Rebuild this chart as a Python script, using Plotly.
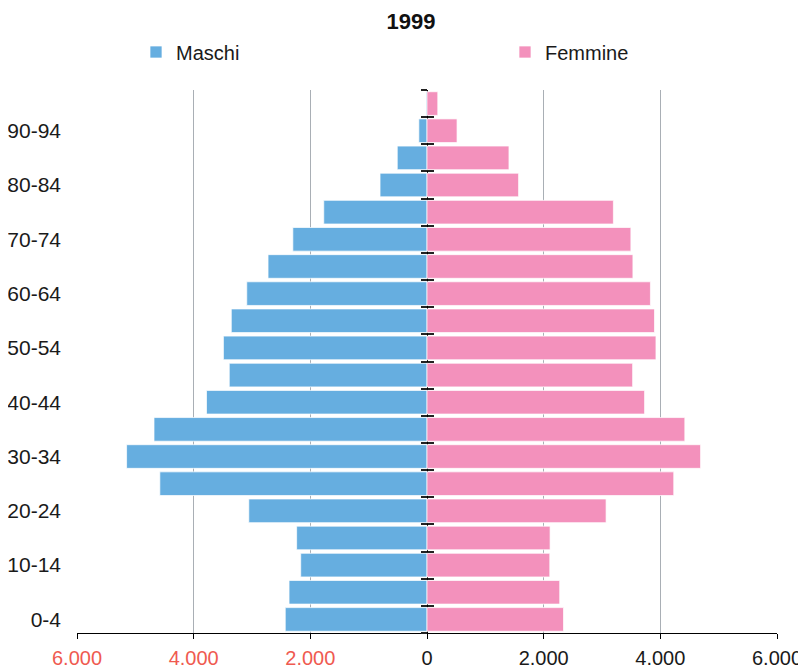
import plotly.graph_objects as go

ages = ["0-4", "5-9", "10-14", "15-19", "20-24", "25-29", "30-34", "35-39",
        "40-44", "45-49", "50-54", "55-59", "60-64", "65-69", "70-74", "75-79",
        "80-84", "85-89", "90-94", "95-99"]
maschi = [2430, 2365, 2165, 2235, 3055, 4580, 5150, 4680, 3780, 3390,
          3490, 3355, 3090, 2725, 2300, 1770, 805, 510, 140, 15]
femmine = [2340, 2275, 2105, 2110, 3070, 4230, 4690, 4420, 3730, 3525,
           3925, 3900, 3830, 3530, 3495, 3195, 1570, 1405, 515, 185]
shown_age_labels = ["0-4", "10-14", "20-24", "30-34", "40-44", "50-54",
                    "60-64", "70-74", "80-84", "90-94"]
x_tickvals = [-6000, -4000, -2000, 0, 2000, 4000, 6000]
x_ticklabels = ["6.000", "4.000", "2.000", "0", "2.000", "4.000", "6.000"]

BLUE = "#66AEE0"
PINK = "#F391BC"
RED = "#EF5A50"
FONT = "Liberation Sans, Arial, sans-serif"

# the page body has an 8px margin, so the figure is 8px smaller each way
W, H = 798, 662

ticktext = [f'<span style="color:{RED}">{t}</span>' if v < 0 else t
            for v, t in zip(x_tickvals, x_ticklabels)]

fig = go.Figure()
fig.add_trace(go.Bar(
    y=ages, x=[-v for v in maschi], orientation="h", name="Maschi",
    marker=dict(color=BLUE, line=dict(color="rgba(255,255,255,0.7)", width=1)),
    customdata=maschi, hovertemplate="%{y}: %{customdata}<extra>Maschi</extra>",
    legend="legend", showlegend=True,
))
fig.add_trace(go.Bar(
    y=ages, x=femmine, orientation="h", name="Femmine",
    marker=dict(color=PINK, line=dict(color="rgba(255,255,255,0.7)", width=1)),
    hovertemplate="%{y}: %{x}<extra>Femmine</extra>",
    legend="legend2", showlegend=True,
))

boundaries = [i - 0.5 for i in range(len(ages) + 1)]
# invisible helper traces so the centre tick axes are drawn
fig.add_trace(go.Scatter(x=[0], y=[0], yaxis="y2", mode="markers",
                         marker=dict(opacity=0), showlegend=False, hoverinfo="skip"))
fig.add_trace(go.Scatter(x=[0], y=[0], yaxis="y3", mode="markers",
                         marker=dict(opacity=0), showlegend=False, hoverinfo="skip"))

fig.update_layout(
    width=W, height=H,
    margin=dict(l=69, r=29, t=82, b=37, pad=0, autoexpand=False),
    paper_bgcolor="white", plot_bgcolor="white",
    font=dict(family=FONT, size=21, color="#1a1a1a"),
    showlegend=True,
    title=dict(text="<b>1999</b>", x=403 / W, xanchor="center",
               y=1 - 13 / H, yanchor="middle", font=dict(size=22, color="#111"),
               automargin=False),
    barmode="overlay", bargap=0.13,
    legend=dict(orientation="h", xref="container", x=128 / W, xanchor="left",
                yref="container", y=1 - 44 / H, yanchor="middle",
                font=dict(size=20), bgcolor="rgba(0,0,0,0)"),
    legend2=dict(orientation="h", xref="container", x=497 / W, xanchor="left",
                 yref="container", y=1 - 44 / H, yanchor="middle",
                 font=dict(size=20), bgcolor="rgba(0,0,0,0)"),
    xaxis=dict(range=[-6000, 6000], tickvals=x_tickvals, ticktext=ticktext,
               showgrid=True, gridcolor="#A9AFB5", gridwidth=1,
               zeroline=True, zerolinecolor="#000", zerolinewidth=1,
               showline=True, linecolor="#000", linewidth=1,
               ticks="outside", ticklen=5, tickcolor="#000",
               tickfont=dict(size=20), ticklabelstandoff=2,
               automargin=False, fixedrange=True),
    yaxis=dict(type="category", categoryorder="array", categoryarray=ages,
               range=[-0.5, len(ages) - 0.5],
               tickvals=shown_age_labels, ticks="", showgrid=False,
               zeroline=False, showline=False, tickfont=dict(size=21),
               ticklabelstandoff=15, automargin=False, fixedrange=True),
    yaxis2=dict(overlaying="y", anchor="free", position=0.5, side="left",
                range=[-0.5, len(ages) - 0.5], tickvals=boundaries,
                showticklabels=False, ticks="outside", ticklen=6, tickwidth=1.5,
                tickcolor="#222", showgrid=False, zeroline=False,
                showline=False, automargin=False, fixedrange=True),
    yaxis3=dict(overlaying="y", anchor="free", position=0.5, side="left",
                range=[-0.5, len(ages) - 0.5], tickvals=boundaries,
                showticklabels=False, ticks="inside", ticklen=6, tickwidth=1.5,
                tickcolor="#222", showgrid=False, zeroline=False,
                showline=False, automargin=False, fixedrange=True),
)

fig.write_html("out.html")
